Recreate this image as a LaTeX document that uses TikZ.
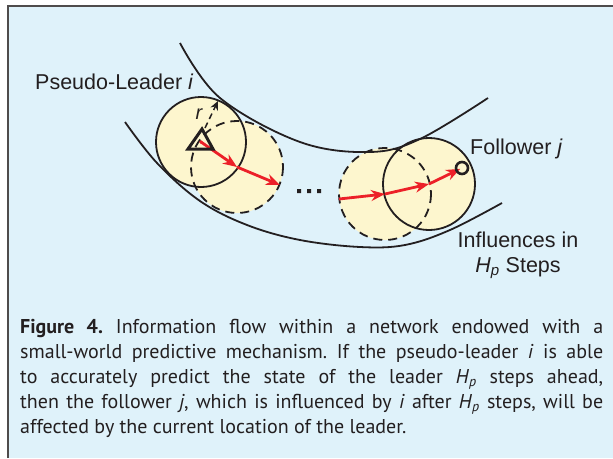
\documentclass[tikz,border=0pt]{standalone}
\usepackage{fontspec}
\setmainfont{Liberation Sans}
\newfontfamily\capfont{PT Sans}
\usetikzlibrary{arrows.meta}
\definecolor{panelblue}{RGB}{223,242,250}
\definecolor{diskyellow}{RGB}{253,246,206}
\definecolor{flowred}{RGB}{236,32,40}
\definecolor{inkgray}{RGB}{35,31,32}
\tikzset{
  track/.style={line width=1.8pt, inkgray},
  rim/.style={line width=1.8pt, inkgray},
  ghost/.style={line width=1.8pt, inkgray, dash pattern=on 9pt off 6pt},
  flow/.style={flowred, line width=2.8pt, -{Stealth[length=14pt,width=11pt]}},
  label/.style={font=\fontsize{21.5}{25}\selectfont, text=inkgray, inner sep=0pt},
}
\newcommand{\Hp}{\textit{H}\textsubscript{\textit{p}}}

\begin{document}
\begin{tikzpicture}[x=1pt, y=-1pt]
  \useasboundingbox (0,0) rectangle (613,458);
  \fill[panelblue] (8,6) rectangle (613,458);
  \draw[inkgray!80, line width=1.2pt] (8,458) -- (8,6) -- (613,6);

  \coordinate (lead) at (201,142);
  \coordinate (leadnext) at (237,167);
  \coordinate (leadrim) at (280,185);
  \coordinate (follprev) at (385,194);
  \coordinate (follprevrim) at (339,199);
  \coordinate (foll) at (429,184);
  \coordinate (follower) at (462,168);
  \coordinate (rtip) at (218,101);

  \fill[diskyellow]
  (leadnext) circle[radius=46]
  (lead) circle[radius=45]
  (follprev) circle[radius=46]
  (foll) circle[radius=46];

  \draw[ghost]
  (leadnext) circle[radius=46]
  (follprev) circle[radius=46];

  \draw[rim]
  (lead) circle[radius=45]
  (foll) circle[radius=46];

  \draw[track]
  plot[smooth, tension=0.6] coordinates {(180,43) (220,98) (300,142) (370,152) (420,139) (488,98)};
  \draw[track]
  plot[smooth, tension=0.6] coordinates {(125,122) (157,163) (200,201) (247,225) (300,240) (360,247) (405,245) (450,230) (502,203)};

  \draw[inkgray, line width=1.5pt, dash pattern=on 6pt off 4pt, -{Stealth[length=9pt,width=8pt]}]
  (205,128) -- (rtip);
  \node[label, font=\fontsize{20}{24}\selectfont\itshape] (rlabel) at (199,114) {r};

  \draw[flow] (lead) -- (leadnext);
  \draw[flow] (leadnext) -- (leadrim);
  \draw[flow] (follprevrim) -- (follprev);
  \draw[flow] (follprev) -- (foll);
  \draw[flow, shorten >=2pt] (foll) -- (follower);

  \draw[inkgray, line width=3pt, line join=miter]
  (188,149) -- (202,129) -- (213,149) -- cycle;
  \fill[flowred] (lead) circle[radius=1.8];

  \draw[inkgray, line width=2.6pt] (follower) circle[radius=6];

  \fill[inkgray]
  (297,189) rectangle ++(4,4)
  (307,189) rectangle ++(4,4)
  (317,189) rectangle ++(4,4);

  \node[label, anchor=base west] (pseudo) at (35,89) {Pseudo-Leader \textit{i}};
  \node[label, anchor=base west] (follabel) at (470,154) {Follower \textit{j}};
  \node[label, anchor=base, align=center] (influence) at (518,272)
  {Influences in\\\Hp{} Steps};

  \node[anchor=north west, inner sep=0pt, text width=583pt, align=justify, text=inkgray,
  font=\capfont\fontsize{20}{25}\selectfont\frenchspacing] (caption) at (20,319)
  {\textbf{Figure 4.} Information flow within a network endowed with a\linebreak
  small-world predictive mechanism. If the pseudo-leader \textit{i} is able\linebreak
  to accurately predict the state of the leader \Hp{} steps ahead,\linebreak
  then the follower \textit{j}, which is influenced by \textit{i} after \Hp{} steps, will be\linebreak
  affected by the current location of the leader.};
\end{tikzpicture}
\end{document}
